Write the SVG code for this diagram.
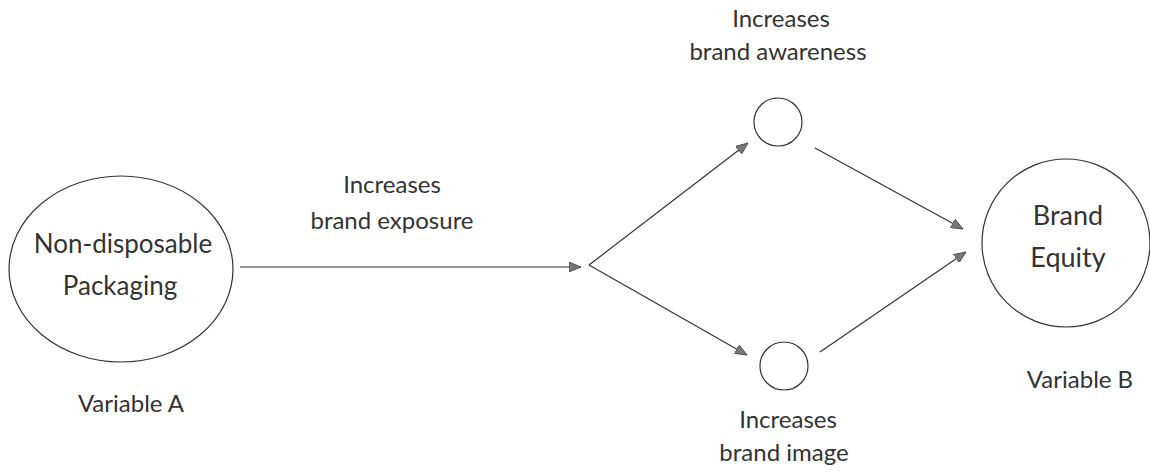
<svg xmlns="http://www.w3.org/2000/svg" width="1150" height="474" viewBox="0 0 1150 474">
<style>
.shape{fill:none;stroke:#333;stroke-width:1.2}
.conn{fill:none;stroke:#333;stroke-width:1.2}
.big{font-family:Lato,"Liberation Sans",sans-serif;font-size:26px;fill:#333;text-anchor:middle}
.eq{font-family:Lato,"Liberation Sans",sans-serif;font-size:27px;fill:#333;text-anchor:middle}
.lbl{font-family:Lato,"Liberation Sans",sans-serif;font-size:24px;fill:#333;text-anchor:middle}
</style>
<defs>
<marker id="ah" viewBox="0 0 12 10" refX="12" refY="5" markerWidth="12" markerHeight="10" markerUnits="userSpaceOnUse" orient="auto">
<path d="M0,0 L12,5 L0,10 Z" fill="#777" stroke="#444" stroke-width="0.8"/>
</marker>
</defs>
<rect width="1150" height="474" fill="#fff"/>
<g id="nodeA">
<ellipse class="shape" cx="121" cy="269" rx="112" ry="93"/>
<text class="big" x="123" y="253">Non-disposable</text>
<text class="big" x="120" y="295">Packaging</text>
</g>
<text id="varA" class="lbl" x="131" y="412">Variable A</text>
<g id="exposure">
<text class="lbl" x="392" y="193">Increases</text>
<text class="lbl" x="392" y="229">brand exposure</text>
</g>
<g id="awareness">
<circle class="shape" cx="778" cy="122" r="24"/>
<text class="lbl" x="781" y="27">Increases</text>
<text class="lbl" x="778" y="60">brand awareness</text>
</g>
<g id="image">
<circle class="shape" cx="784" cy="366" r="24"/>
<text class="lbl" x="788" y="428">Increases</text>
<text class="lbl" x="784" y="461">brand image</text>
</g>
<g id="nodeB">
<circle class="shape" cx="1066" cy="243" r="84"/>
<text class="eq" x="1068" y="225">Brand</text>
<text class="eq" x="1068" y="267">Equity</text>
</g>
<text id="varB" class="lbl" x="1080" y="388">Variable B</text>
<g id="connectors">
<line class="conn" x1="240" y1="267" x2="581" y2="267" marker-end="url(#ah)"/>
<line class="conn" x1="589" y1="265" x2="748" y2="143" marker-end="url(#ah)"/>
<line class="conn" x1="589" y1="265" x2="747" y2="355" marker-end="url(#ah)"/>
<line class="conn" x1="815" y1="148" x2="963" y2="229" marker-end="url(#ah)"/>
<line class="conn" x1="820" y1="352" x2="966" y2="252" marker-end="url(#ah)"/>
</g>
</svg>
